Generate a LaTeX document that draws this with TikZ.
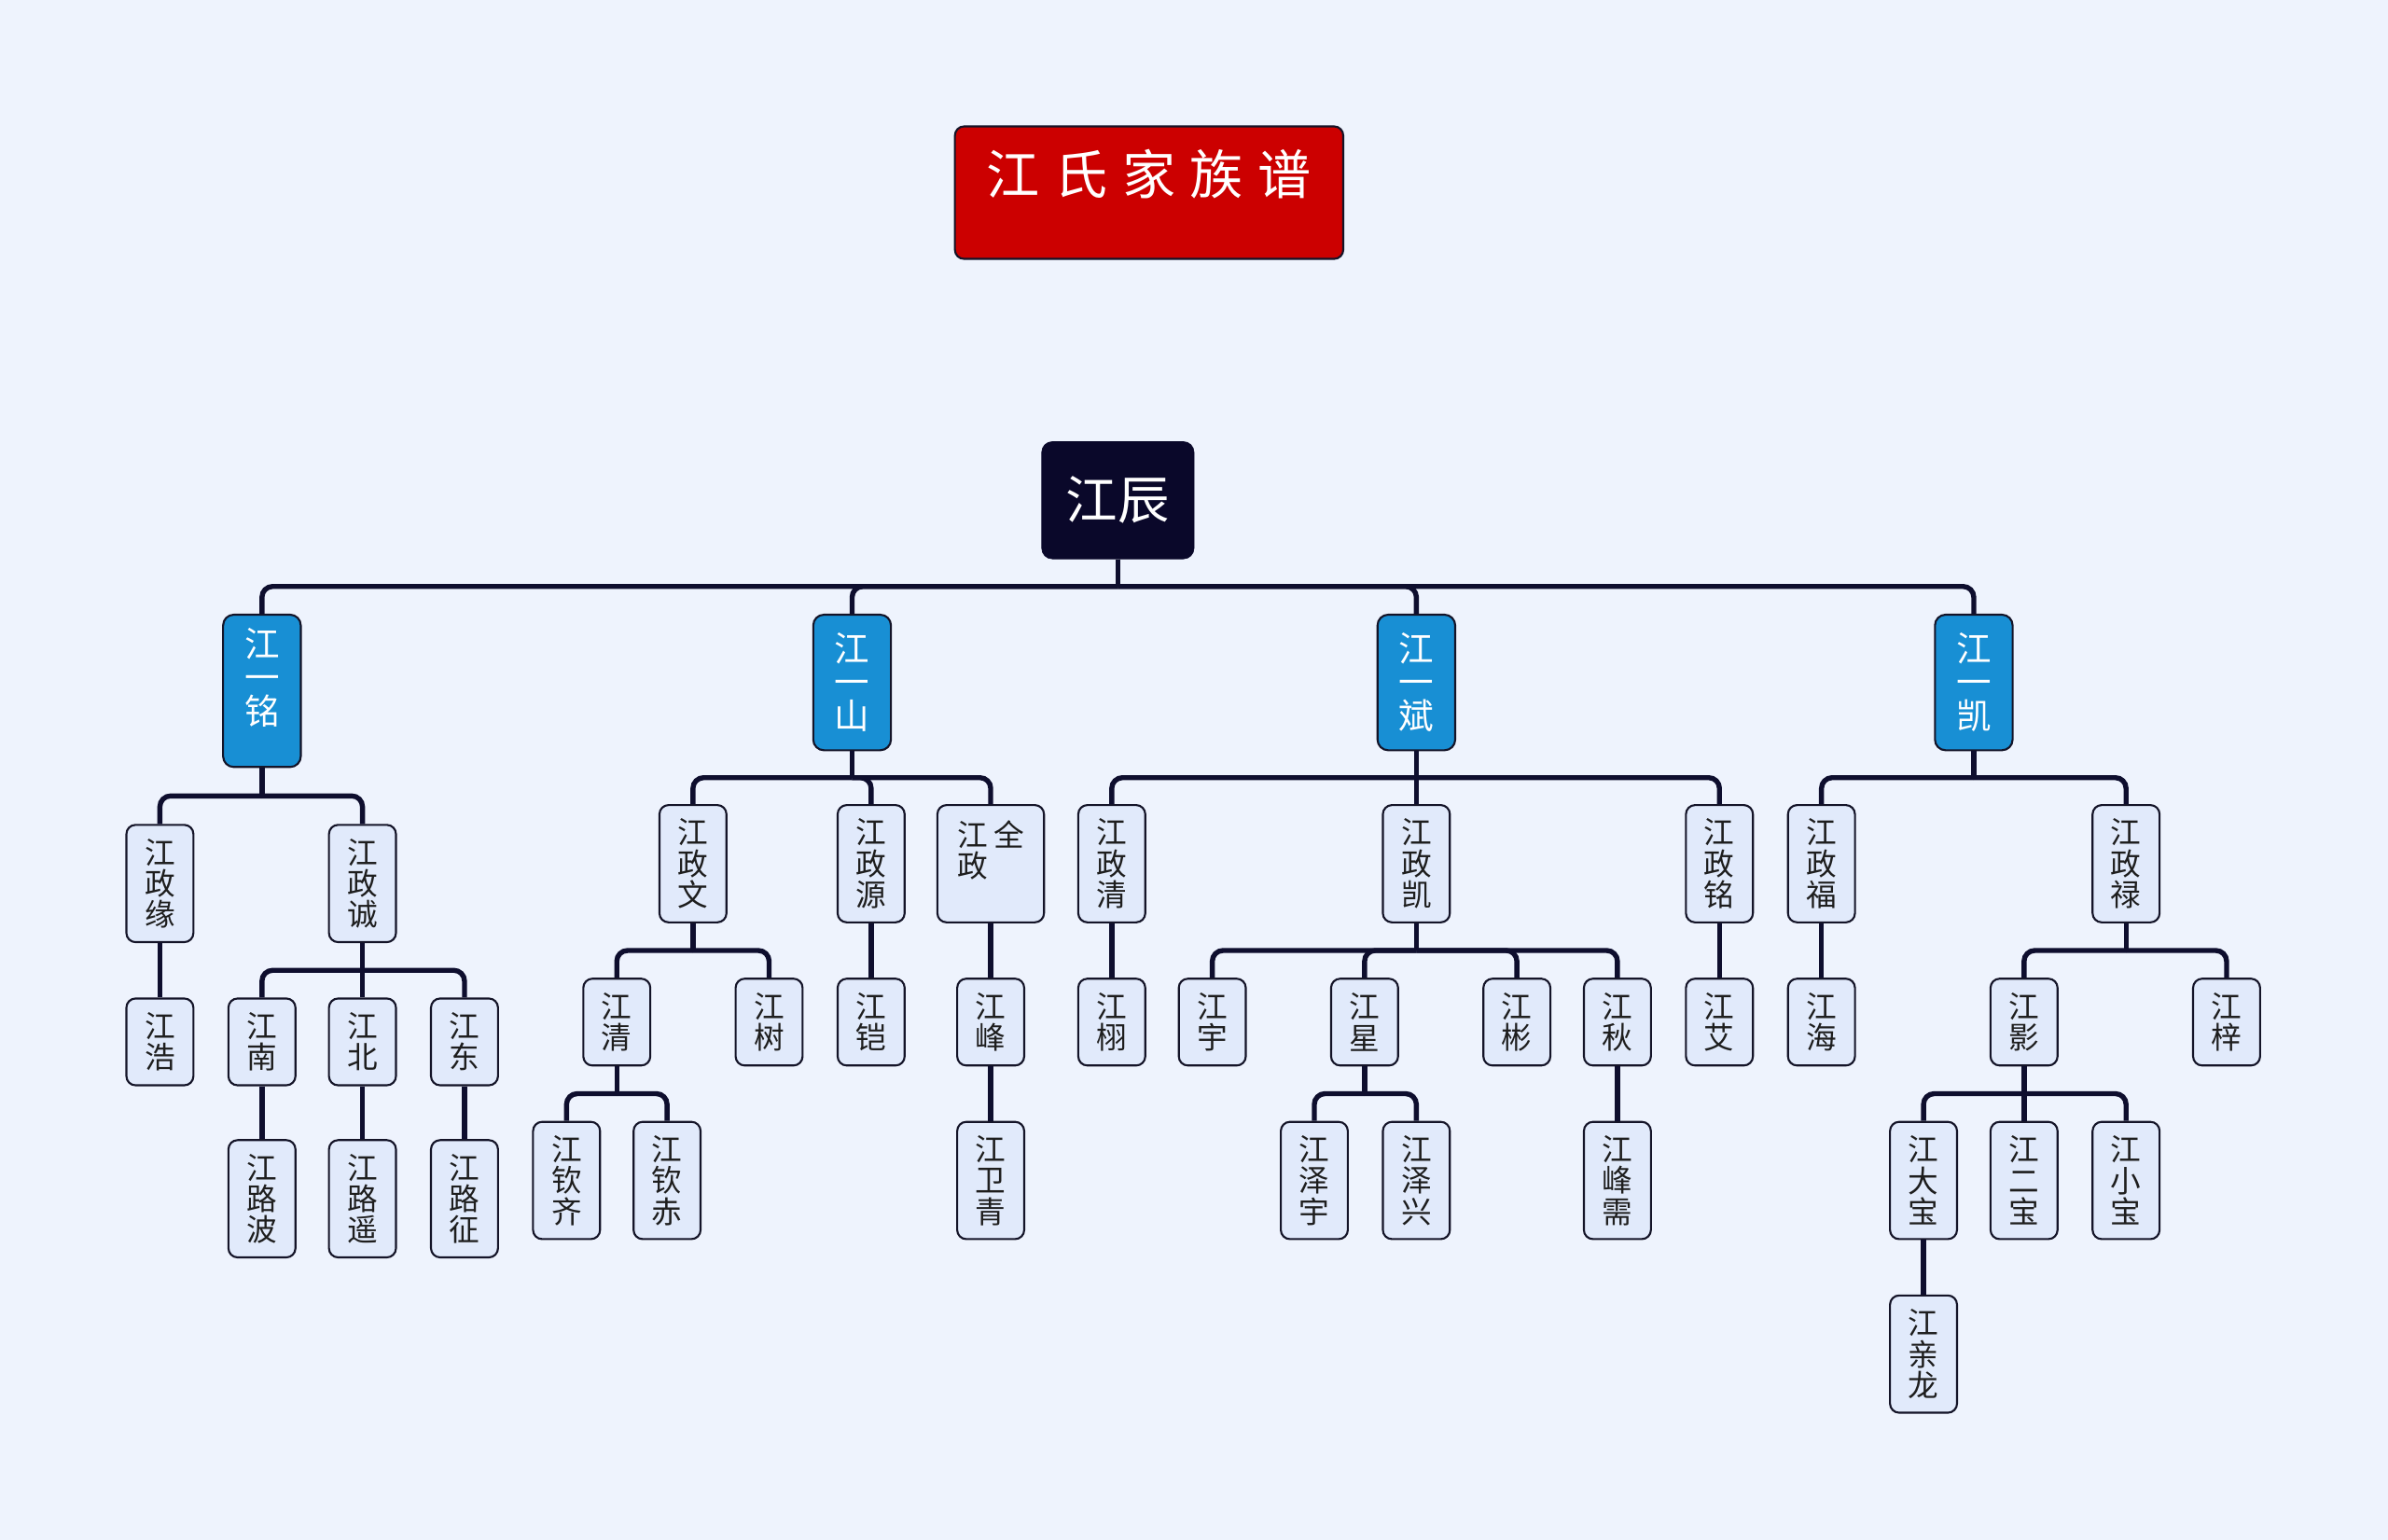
\documentclass[tikz,border=0pt]{standalone}
\usepackage{fontspec}
\usepackage{tikz}
\usetikzlibrary{calc}
\newfontfamily\cjk{Noto Sans CJK SC}
\definecolor{bgcol}{RGB}{238,243,253}
\definecolor{boxcol}{RGB}{225,234,251}
\definecolor{gencol}{RGB}{24,143,212}
\definecolor{rootcol}{RGB}{10,8,42}
\definecolor{titlecol}{RGB}{204,0,0}
\definecolor{linecol}{RGB}{14,14,46}
\definecolor{edgecol}{RGB}{20,20,40}
\definecolor{inkcol}{RGB}{30,30,30}
\newcommand{\tgap}{\hspace{9.5pt}}

\begin{document}
\begin{tikzpicture}[x=1pt, y=-1pt,
  link/.style={draw=linecol, line width=3.3pt},
  titlebox/.style={fill=titlecol, draw=edgecol, line width=1.3pt, rounded corners=6pt, minimum width=255pt, inner sep=0pt, text height=45pt, text depth=42pt, text=white, font=\cjk\fontsize{35pt}{35pt}\selectfont},
  rootbox/.style={fill=rootcol, draw=rootcol, rounded corners=7pt, minimum width=100pt, minimum height=77pt, inner sep=0pt, text=white, font=\cjk\fontsize{34pt}{34pt}\selectfont},
  gen/.style={fill=gencol, draw=edgecol, line width=1.3pt, rounded corners=7pt, minimum width=51pt, minimum height=89pt, inner sep=0pt, anchor=north, align=center, text=white, font=\cjk\fontsize{23pt}{22pt}\selectfont},
  kid/.style={fill=boxcol, draw=edgecol, line width=1.3pt, rounded corners=6pt, minimum width=44pt, inner sep=0pt, anchor=north, align=center, text=inkcol, font=\cjk\fontsize{20pt}{20.4pt}\selectfont},
  kidtwo/.style={kid, minimum height=57pt},
  kidthree/.style={kid, minimum height=77pt}]
  \fill[bgcol] (0,0) rectangle (1568,1011);

  \node[titlebox] (title) at (754.5,126.5) {江\tgap 氏\tgap 家\tgap 族\tgap 谱};
  \node[rootbox] (chen) at (734,328.5) {江辰};

  \node[gen, inner ysep=9pt] (yiming) at (172,403) {\parbox[c][82pt][t]{40pt}{\centering 江\\一\\铭}};
  \node[gen] (yishan) at (559.5,403) {江\\一\\山};
  \node[gen] (yibin) at (930,403) {江\\一\\斌};
  \node[gen] (yikai) at (1296,403) {江\\一\\凯};

  \node[kidthree] (zyuan) at (105,541) {江\\政\\缘};
  \node[kidthree] (zcheng) at (238,541) {江\\政\\诚};
  \node[kidthree] (zwen) at (455,528) {江\\政\\文};
  \node[kidthree] (zyuanb) at (572,528) {江\\政\\源};
  \node[kid, inner xsep=13pt, inner ysep=10pt] (zquan) at (650.5,528) {\parbox[c][57pt][t]{44pt}{江\hspace{4pt}全\\政}};
  \node[kidthree] (zqing) at (730,528) {江\\政\\清};
  \node[kidthree] (zkai) at (930,528) {江\\政\\凯};
  \node[kidthree] (zming) at (1129,528) {江\\政\\铭};
  \node[kidthree] (zfu) at (1196,528) {江\\政\\福};
  \node[kidthree] (zlu) at (1396,528) {江\\政\\禄};

  \node[kidtwo] (hao) at (105,655) {江\\浩};
  \node[kidtwo] (nan) at (172,655) {江\\南};
  \node[kidtwo] (bei) at (238,655) {江\\北};
  \node[kidtwo] (dong) at (305,655) {江\\东};
  \node[kidtwo] (qing) at (405,642) {江\\清};
  \node[kidtwo] (shu) at (505,642) {江\\树};
  \node[kidtwo] (kai) at (572,642) {江\\铠};
  \node[kidtwo] (feng) at (650.5,642) {江\\峰};
  \node[kidtwo] (xu) at (730,642) {江\\栩};
  \node[kidtwo] (yu) at (796,642) {江\\宇};
  \node[kidtwo] (xing) at (896,642) {江\\星};
  \node[kidtwo] (bin) at (996,642) {江\\彬};
  \node[kidtwo] (qiu) at (1062,642) {江\\秋};
  \node[kidtwo] (ai) at (1129,642) {江\\艾};
  \node[kidtwo] (hai) at (1196,642) {江\\海};
  \node[kidtwo] (ying) at (1329,642) {江\\影};
  \node[kidtwo] (zi) at (1462,642) {江\\梓};

  \node[kidthree] (lubo) at (172,748) {江\\路\\波};
  \node[kidthree] (luyao) at (238,748) {江\\路\\遥};
  \node[kidthree] (luzheng) at (305,748) {江\\路\\征};
  \node[kidthree] (qinqi) at (372,736) {江\\钦\\齐};
  \node[kidthree] (qinchi) at (438,736) {江\\钦\\赤};
  \node[kidthree] (weiqing) at (650.5,736) {江\\卫\\青};
  \node[kidthree] (zeyu) at (863,736) {江\\泽\\宇};
  \node[kidthree] (zexing) at (930,736) {江\\泽\\兴};
  \node[kidthree] (fengxu) at (1062,736) {江\\峰\\需};
  \node[kidthree] (dabao) at (1263,736) {江\\大\\宝};
  \node[kidthree] (erbao) at (1329,736) {江\\二\\宝};
  \node[kidthree] (xiaobao) at (1396,736) {江\\小\\宝};
  \node[kidthree] (qinlong) at (1263,850) {江\\亲\\龙};

  \foreach \p/\c in {chen/yiming, chen/yishan, chen/yibin, chen/yikai,
      yiming/zyuan, yiming/zcheng, zyuan/hao, zcheng/nan, zcheng/bei, zcheng/dong,
      nan/lubo, bei/luyao, dong/luzheng,
      yishan/zwen, yishan/zyuanb, yishan/zquan, zwen/qing, zwen/shu,
      qing/qinqi, qing/qinchi, zyuanb/kai, zquan/feng, feng/weiqing,
      yibin/zqing, yibin/zkai, yibin/zming, zqing/xu, zkai/yu, zkai/xing,
      zkai/bin, zkai/qiu, xing/zeyu, xing/zexing, qiu/fengxu, zming/ai,
      yikai/zfu, yikai/zlu, zfu/hai, zlu/ying, zlu/zi,
      ying/dabao, ying/erbao, ying/xiaobao, dabao/qinlong}
  {
    \coordinate (bus) at ($(\p.south)!.5!(\p.south |- \c.north)$);
    \draw[link] (\p.south) -- (bus);
    \draw[link, rounded corners=7pt] (bus) -| (\c.north);
  }
\end{tikzpicture}
\end{document}
